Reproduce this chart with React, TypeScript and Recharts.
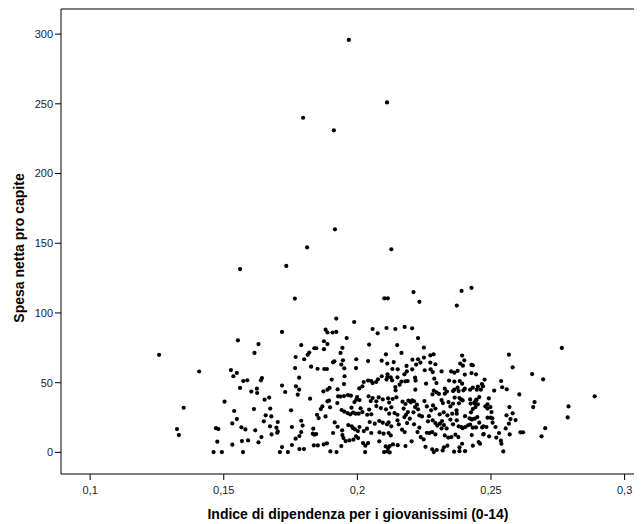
import { ScatterChart, Scatter, XAxis, YAxis, Label, ReferenceLine } from 'recharts';

// indice di dipendenza (x), spesa netta pro capite (y)
const punti: [number, number][] = [
  // valori anomali in alto
  [0.1968, 295.8], [0.2111, 251], [0.1797, 240], [0.1912, 231], [0.1916, 160], [0.1812, 147],
  [0.2127, 145.7], [0.1561, 131.5], [0.1734, 133.7], [0.1766, 110.3], [0.2101, 110.5], [0.2114, 110.5],
  [0.221, 115], [0.2232, 108], [0.239, 115.8], [0.2427, 118], [0.2372, 105.3],
  // parte sinistra
  [0.1258, 70], [0.1408, 58], [0.135, 32], [0.1325, 16.7], [0.1332, 12.4],
  [0.1553, 80.4], [0.163, 77.7], [0.1615, 71.3], [0.1527, 59], [0.1549, 57], [0.1536, 54.6], [0.1573, 51.2],
  [0.1588, 51.7], [0.1561, 46.2], [0.1603, 43.6], [0.1624, 45.7], [0.1625, 42.6], [0.1503, 36.4], [0.1539, 29.7],
  [0.1613, 31.1], [0.1549, 23.9], [0.1532, 20.8], [0.1471, 17.4], [0.148, 16.7], [0.1566, 18], [0.1581, 16.5],
  [0.1618, 15.8], [0.1476, 7.7], [0.1532, 5.5], [0.1568, 8.1], [0.1591, 8.6], [0.163, 7.2], [0.1462, 0.2],
  [0.1493, 0.2], [0.1572, 0.2],
  // 0,16 - 0,20
  [0.1921, 96], [0.1988, 93.5], [0.1718, 86.4], [0.1881, 88], [0.1888, 86], [0.1907, 86], [0.1921, 86.4],
  [0.196, 82], [0.1875, 79.7], [0.1888, 77.7], [0.179, 77], [0.1839, 74.7], [0.1846, 74.7], [0.1944, 75],
  [0.1875, 74], [0.182, 71.6], [0.1814, 70], [0.1937, 71.3], [0.1769, 68.4], [0.1801, 66.8], [0.1946, 66],
  [0.1996, 66.8], [0.1914, 65.3], [0.1909, 64.6], [0.194, 63], [0.1827, 61.5], [0.1767, 60.5], [0.1851, 60],
  [0.1876, 59.8], [0.1886, 59.8], [0.1951, 60.3], [0.1995, 60.5], [0.1782, 53.6], [0.1904, 52.2], [0.1952, 54.6],
  [0.1643, 53.3], [0.1639, 51.7], [0.195, 49], [0.1718, 47.9], [0.177, 47.4], [0.1896, 46.2], [0.1888, 45],
  [0.1782, 45], [0.1777, 41.4], [0.1873, 43.8], [0.173, 43.3], [0.1926, 45.2], [0.195, 40.4], [0.1965, 41.1],
  [0.1976, 40.7], [0.1928, 40.2], [0.1937, 40], [0.167, 39.3], [0.1653, 37.8], [0.1823, 38.5], [0.1888, 36.6],
  [0.1894, 37.1], [0.1996, 37.8], [0.1989, 36.1], [0.1925, 35.4], [0.1898, 32.3], [0.1869, 33], [0.1863, 31.1],
  [0.1941, 30.4], [0.1951, 29.2], [0.1963, 28.2], [0.1978, 32.1], [0.1973, 27.3], [0.1984, 28.5], [0.1994, 27.8],
  [0.1752, 30.2], [0.1674, 31.4], [0.1657, 26.6], [0.1678, 25.8], [0.1849, 27], [0.1855, 24.6], [0.1881, 25.8],
  [0.165, 22.3], [0.1702, 21.8], [0.1697, 17.7], [0.1702, 15], [0.1673, 18.7], [0.179, 22.7], [0.1795, 19.2],
  [0.1755, 18.2], [0.1915, 21.5], [0.1926, 18.4], [0.1943, 15.8], [0.1966, 19.6], [0.1979, 18.7], [0.1984, 17.4],
  [0.1991, 16.5], [0.1835, 17], [0.1679, 12.9], [0.17, 14.1], [0.1641, 11], [0.179, 14.6], [0.1783, 11.7],
  [0.1833, 13.4], [0.1839, 12.7], [0.1846, 13.1], [0.1909, 13.9], [0.1944, 12.4], [0.1948, 10.3], [0.1995, 11.5],
  [0.1985, 9.1], [0.2003, 10.3], [0.1956, 8.1], [0.197, 8.6], [0.1769, 9.8], [0.1755, 5.3], [0.1718, 3.8],
  [0.171, 0.2], [0.174, 0.2], [0.1783, 2.4], [0.18, 2.4], [0.1837, 5], [0.1852, 5], [0.1874, 5.7], [0.1886, 6.5],
  [0.1899, 0.7], [0.1922, 0.2], [0.194, 4.5],
  // 0,20 - 0,24
  [0.2057, 88.5], [0.2076, 85.4], [0.2109, 89.2], [0.2142, 88.5], [0.2177, 90], [0.2205, 89], [0.2227, 82],
  [0.2044, 77.3], [0.2149, 77], [0.2249, 75.2], [0.2165, 71.3], [0.2107, 70.3], [0.2273, 69.6], [0.2285, 70.3],
  [0.204, 65.5], [0.2091, 65.8], [0.2112, 63.7], [0.2136, 64.8], [0.2206, 66.5], [0.2227, 66.8], [0.2236, 64.4],
  [0.222, 63], [0.2249, 68], [0.2273, 64.4], [0.2292, 63.2], [0.2184, 62], [0.2131, 59.8], [0.2151, 59.6],
  [0.2252, 58.9], [0.2274, 59.6], [0.2282, 57.6], [0.2185, 58.1], [0.2176, 56], [0.2205, 59.6], [0.2315, 58.1],
  [0.2351, 58.1], [0.2363, 57.2], [0.2375, 58.4], [0.2113, 56], [0.2091, 54.6], [0.2125, 53.8], [0.215, 53.8],
  [0.213, 51.7], [0.2216, 53.6], [0.2218, 51.5], [0.2024, 50.5], [0.204, 51.5], [0.2052, 51.2], [0.2077, 52.4],
  [0.207, 50.5], [0.2057, 49.7], [0.2109, 52.2], [0.2112, 54], [0.2165, 50.8], [0.218, 51], [0.2188, 51.2],
  [0.2257, 49.3], [0.2288, 52.9], [0.2296, 49.7], [0.2343, 51.5], [0.2363, 50.8], [0.2383, 51.2], [0.2019, 47.4],
  [0.2007, 45.9], [0.2142, 46.9], [0.2158, 48.6], [0.2143, 44.5], [0.2217, 45], [0.2286, 44.3], [0.2296, 43.1],
  [0.2281, 41.6], [0.2305, 41.9], [0.2327, 45.7], [0.2335, 43.6], [0.2327, 42.1], [0.2363, 45], [0.2358, 44],
  [0.2375, 46.4], [0.1999, 39.7], [0.2008, 37.5], [0.2042, 40.2], [0.2057, 39], [0.205, 36.8], [0.208, 39.5],
  [0.2095, 38], [0.2071, 36.6], [0.2115, 38.8], [0.2132, 38.3], [0.2146, 39.5], [0.2119, 35.7], [0.2169, 36.4],
  [0.218, 34.7], [0.2191, 37.1], [0.22, 35.9], [0.2205, 37.3], [0.2212, 36.6], [0.2223, 34.2], [0.2216, 32.5],
  [0.2227, 30.9], [0.221, 28.7], [0.2251, 36.8], [0.226, 33], [0.2283, 33.7], [0.2292, 31.4], [0.2276, 30.2],
  [0.2315, 37.5], [0.232, 35.4], [0.2341, 36.1], [0.2348, 33], [0.2358, 35], [0.2364, 39.3], [0.2382, 39],
  [0.2012, 31.6], [0.2019, 28.9], [0.2005, 27.8], [0.2044, 30.7], [0.2037, 27], [0.2052, 27.3], [0.2071, 33.2],
  [0.2088, 31.8], [0.2107, 30.9], [0.2127, 32.3], [0.2119, 27.8], [0.2139, 28.2], [0.215, 27], [0.2173, 31.4],
  [0.2189, 28.9], [0.2182, 27], [0.2232, 26.6], [0.2242, 25.8], [0.2268, 26], [0.2308, 27.3], [0.2323, 28.7],
  [0.2337, 26.6], [0.2355, 27.8], [0.2371, 30.2], [0.2046, 21.8], [0.2065, 20.6], [0.2082, 22.5], [0.2095, 21.3],
  [0.2111, 20.1], [0.2117, 21.5], [0.2127, 18.7], [0.215, 23], [0.2155, 20.1], [0.2176, 25.3], [0.2196, 24.2],
  [0.2186, 21], [0.2212, 20.1], [0.2232, 17.7], [0.2225, 14.6], [0.2264, 22.3], [0.2282, 23], [0.2292, 21],
  [0.2299, 19.2], [0.2309, 20.6], [0.2317, 22.5], [0.2324, 19.6], [0.2334, 17.2], [0.2315, 17.2], [0.2348, 23.5],
  [0.2358, 20.1], [0.2372, 23], [0.2008, 18.2], [0.2002, 15.3], [0.2024, 15.3], [0.2036, 17], [0.2052, 13.9],
  [0.2083, 14.4], [0.2098, 13.4], [0.2117, 13.9], [0.2125, 12.2], [0.2167, 16.3], [0.2177, 14.6], [0.2237, 11],
  [0.2248, 9.3], [0.226, 14.1], [0.227, 13.9], [0.228, 14.6], [0.2292, 12.9], [0.2327, 12.2], [0.234, 10.6],
  [0.2352, 11], [0.2367, 12.7], [0.2378, 11], [0.2021, 6.7], [0.204, 6.7], [0.203, 4.8], [0.2082, 7.9],
  [0.2106, 4.3], [0.2115, 3.1], [0.2121, 4.5], [0.2133, 5.7], [0.2151, 5.2], [0.218, 4.5], [0.2203, 7.9],
  [0.2255, 4], [0.2029, 0.2], [0.21, 0.2], [0.2112, 0.7], [0.2121, 0], [0.228, 2.2], [0.2297, 1.7], [0.2286, 0.2],
  [0.2324, 3.6], [0.2337, 4.8], [0.2319, 1.4], [0.2362, 0.5], [0.2382, 0.9],
  // 0,24 - 0,29
  [0.2567, 70.1], [0.2581, 61], [0.2654, 56.2], [0.2695, 52.4], [0.2606, 41.6], [0.2663, 36.1], [0.2658, 32.5],
  [0.2703, 17.4], [0.2689, 11.5], [0.2538, 51.2], [0.2542, 46.7], [0.2559, 45.2], [0.2512, 44.3], [0.2569, 32.5],
  [0.2581, 28], [0.2558, 26.6], [0.2573, 23.9], [0.2592, 23.2], [0.2567, 20.6], [0.2555, 17.2], [0.257, 12.9],
  [0.261, 14.4], [0.262, 14.4], [0.2546, 0.7], [0.2537, 8.4], [0.2539, 6.2], [0.252, 10.6], [0.253, 13.9],
  [0.2517, 18.2], [0.2493, 11.5], [0.2506, 21.3], [0.2483, 18.2], [0.2472, 18.7], [0.2471, 12.9], [0.2487, 34.5],
  [0.2498, 32.5], [0.2502, 28.9], [0.2487, 31.4], [0.2479, 33], [0.2487, 24.9], [0.2499, 24.9], [0.2476, 52.2],
  [0.2466, 49], [0.247, 47.4], [0.2462, 45], [0.2451, 47.2], [0.2456, 39.7], [0.2446, 37.8], [0.2439, 35.2],
  [0.2451, 34.5], [0.2442, 32.5], [0.2432, 31.1], [0.2425, 28.7], [0.2426, 23.9], [0.2439, 24.2], [0.2449, 25.3],
  [0.2456, 21.3], [0.2467, 17.9], [0.2414, 19.4], [0.2422, 19.9], [0.2432, 17.7], [0.2444, 17.9], [0.2428, 12.4],
  [0.2473, 13.1], [0.2454, 7.4], [0.2459, 6.2], [0.2432, 4.8], [0.2392, 69.4], [0.24, 66], [0.2385, 63.7],
  [0.2395, 62.2], [0.2427, 62.7], [0.2432, 62.5], [0.2402, 55.8], [0.2427, 56.9], [0.2444, 56], [0.2392, 49.3],
  [0.2379, 44], [0.2402, 45.7], [0.2397, 44.5], [0.2432, 46.4], [0.2422, 45], [0.2447, 45], [0.2388, 38],
  [0.2394, 37.3], [0.238, 35.2], [0.2422, 38], [0.2424, 35], [0.2438, 35.9], [0.2444, 37.3], [0.2403, 26],
  [0.242, 24.4], [0.2429, 23.5], [0.2372, 27.8], [0.2379, 18.7], [0.2389, 18.2], [0.2394, 17.4], [0.2404, 18.2],
  [0.2392, 6.2], [0.2382, 3.6], [0.2403, 0.9], [0.2492, 38.8], [0.2505, 24.4],
  [0.2765, 74.9], [0.2888, 40.2], [0.279, 33], [0.2787, 25.1],
];

const xTicks = [0.1, 0.15, 0.2, 0.25, 0.3];
const yTicks = [0, 50, 100, 150, 200, 250, 300];
const yMax = 318;

const xTitle = 'Indice di dipendenza per i giovanissimi (0-14)';
const yTitle = 'Spesa netta pro capite';

const font = 'Arial, "Liberation Sans", sans-serif';

const Dot = (props: any) => <circle cx={props.cx} cy={props.cy} r={2.1} fill="#000" />;

export default function App() {
  const data = punti.map(([x, y]) => ({ x, y }));
  const tickStyle = { fontFamily: font, fontSize: 11, fill: '#222' };

  return (
    <div style={{ width: 634, height: 516, overflow: 'hidden' }}>
      <ScatterChart width={650} height={516} margin={{ top: 1, right: 8, bottom: 0, left: 0 }}>
        <XAxis
          type="number"
          dataKey="x"
          domain={[0.0891, 0.3095]}
          allowDataOverflow
          ticks={xTicks}
          tickFormatter={(v: number) => String(v).replace('.', ',')}
          height={50}
          tickSize={6}
          tickMargin={6}
          tick={tickStyle}
          stroke="#000"
        >
          <Label
            content={() => (
              <text x={350} y={506} textAnchor="middle" dominantBaseline="central"
                fontFamily={font} fontSize={14} fontWeight="bold" fill="#000">
                {xTitle}
              </text>
            )}
          />
        </XAxis>
        <YAxis
          type="number"
          dataKey="y"
          domain={[-15.5, yMax]}
          allowDataOverflow
          ticks={yTicks}
          width={53}
          tickSize={6}
          tickMargin={2}
          tick={tickStyle}
          stroke="#000"
        >
          <Label
            content={() => (
              <text x={11} y={240} transform="rotate(-90 11 240)" textAnchor="middle" dominantBaseline="central"
                fontFamily={font} fontSize={14} fontWeight="bold" fill="#000">
                {yTitle}
              </text>
            )}
          />
        </YAxis>
        <ReferenceLine y={yMax} stroke="#000" strokeWidth={1} ifOverflow="visible" />
        <Scatter data={data} shape={Dot} isAnimationActive={false} />
      </ScatterChart>
    </div>
  );
}
